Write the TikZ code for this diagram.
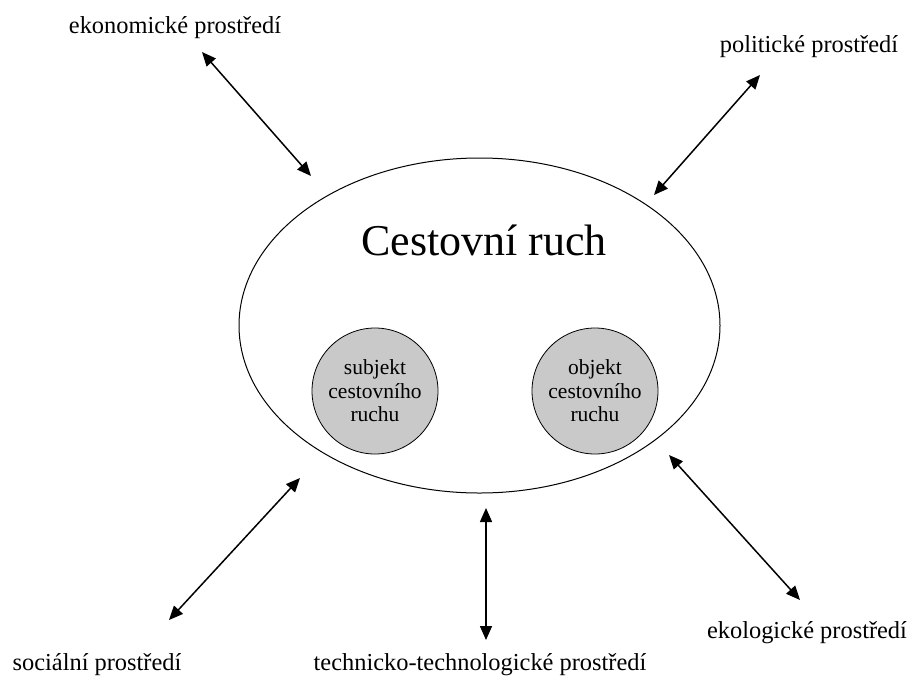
\documentclass[tikz,border=0pt]{standalone}
\usepackage{fontspec}
\setmainfont{Liberation Serif}
\usetikzlibrary{shapes.geometric,arrows.meta}
\begin{document}
\begin{tikzpicture}[x=1pt,y=-1pt,
  lbl/.style={font=\fontsize{24.4}{28}\selectfont, inner sep=0pt},
  conn/.style={line width=1.5pt, {Triangle[length=14pt,width=12pt]}-{Triangle[length=14pt,width=12pt]}},
  inner/.style={circle, draw, line width=0.8pt, fill=black!21, minimum size=126pt, inner sep=0pt, align=center, font=\fontsize{21.5}{23.5}\selectfont}]
\useasboundingbox (0,0) rectangle (910,678);
\node[ellipse, draw, line width=1pt, minimum width=481pt, minimum height=335pt, inner sep=0pt] (ell) at (479.5,325.5) {};
\node[font=\fontsize{44}{48}\selectfont] (title) at (484,240) {Cestovní ruch};
\node[inner] (subj) at (375,391) {subjekt\\cestovního\\ruchu};
\node[inner] (obj) at (595,391) {objekt\\cestovního\\ruchu};
\node[lbl] (eko) at (175,28) {ekonomické prostředí};
\node[lbl] (pol) at (809,47) {politické prostředí};
\node[lbl] (soc) at (97,665) {sociální prostředí};
\node[lbl] (tech) at (480,665) {technicko-technologické prostředí};
\node[lbl] (ekol) at (807,633) {ekologické prostředí};
\coordinate (a1) at (202,52); \coordinate (b1) at (311,176);
\coordinate (a2) at (760,75); \coordinate (b2) at (654,195);
\coordinate (a3) at (169,620); \coordinate (b3) at (300,478);
\coordinate (a4) at (486,640); \coordinate (b4) at (486,508);
\coordinate (a5) at (800,600); \coordinate (b5) at (669,455);
\draw[conn] (a1) -- (b1);
\draw[conn] (a2) -- (b2);
\draw[conn] (a3) -- (b3);
\draw[conn] (a4) -- (b4);
\draw[conn] (a5) -- (b5);
\end{tikzpicture}
\end{document}
